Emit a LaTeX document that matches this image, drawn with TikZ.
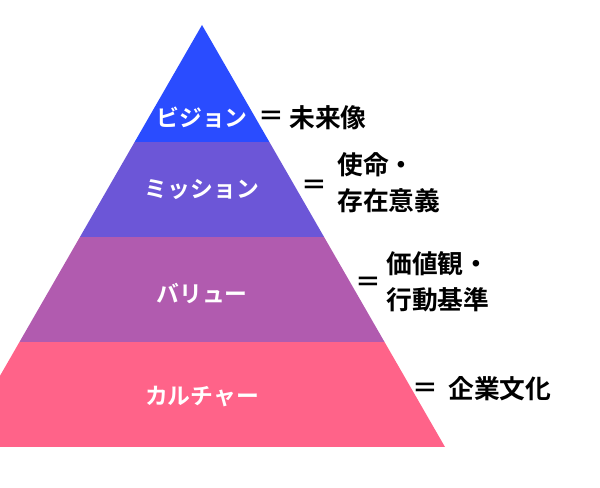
\documentclass[tikz,border=0pt]{standalone}
\usepackage{fontspec}
\newfontfamily\jp{Noto Sans CJK JP}[BoldFont={Noto Sans CJK JP Bold}]
\definecolor{visionblue}{HTML}{2A4CFF}
\definecolor{missionpurple}{HTML}{6C56D7}
\definecolor{valuemauve}{HTML}{B15BAF}
\definecolor{culturepink}{HTML}{FF6389}

\begin{document}
\begin{tikzpicture}%
    [x = 0.03cm, y = -0.03cm,
     layer/.style = {text = white, font = \jp\bfseries\fontsize{19.5}{22}\selectfont},
     meaning/.style = {anchor = west, inner sep = 0, align = left,
                       font = \jp\bfseries\fontsize{22}{31}\selectfont},
     equal/.style = {inner sep = 0, font = \jp\bfseries\fontsize{22}{22}\selectfont}]
    \useasboundingbox (0, 0) rectangle (600, 488);
    \coordinate (top) at (202, 25);
    \coordinate (left) at (-41, 447);
    \coordinate (right) at (445, 447);

    % pyramid bands
    \begin{scope}
        \clip (0, 0) rectangle (600, 488);
        \clip (top) -- (left) -- (right) -- cycle;
        \fill [visionblue] (-50, 0) rectangle (600, 142);
        \fill [missionpurple] (-50, 142) rectangle (600, 237);
        \fill [valuemauve] (-50, 237) rectangle (600, 342);
        \fill [culturepink] (-50, 342) rectangle (600, 447);
    \end{scope}

    \node [layer] (vision) at (202, 118) {ビジョン};
    \node [layer] (mission) at (202, 190) {ミッション};
    \node [layer] (value) at (202, 294) {バリュー};
    \node [layer] (culture) at (202, 397) {カルチャー};

    \node [equal] (eq1) at (271, 118) {＝};
    \node [equal] (eq2) at (314, 187) {＝};
    \node [equal] (eq3) at (368, 284) {＝};
    \node [equal] (eq4) at (425, 390) {＝};

    \node [meaning] (future) at (289, 118) {未来像};
    \node [meaning] (purpose) at (337, 183) {使命・\\存在意義};
    \node [meaning] (values) at (386, 282) {価値観・\\行動基準};
    \node [meaning] (corporate) at (448, 389) {企業文化};
\end{tikzpicture}
\end{document}
